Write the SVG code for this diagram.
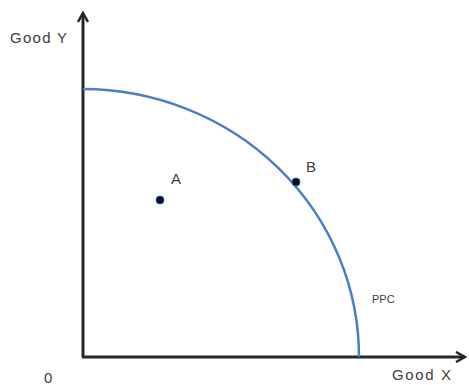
<svg xmlns="http://www.w3.org/2000/svg" width="470" height="385" viewBox="0 0 470 385">
<defs>
<style>
.axis{stroke:#262626;stroke-width:3;fill:none}
.lbl{font-family:"Liberation Sans",Arial,sans-serif;fill:#404040}
.pt{fill:#0d0d1a;stroke:#2e5a9c;stroke-width:1}
</style>
<marker id="ah" viewBox="0 0 12 12" refX="10" refY="6" markerWidth="12" markerHeight="12" markerUnits="userSpaceOnUse" orient="auto">
<path d="M1,1 L10,6 L1,11" fill="none" stroke="#262626" stroke-width="2.5"/>
</marker>
</defs>
<rect width="470" height="385" fill="#ffffff"/>
<g id="connectors">
<path id="y-axis" class="axis" d="M83,357 L83,13" marker-end="url(#ah)"/>
<path id="x-axis" class="axis" d="M82,357 L465,357" marker-end="url(#ah)"/>
<path id="ppc-curve" d="M83,89 A277,268 0 0 1 359,357" fill="none" stroke="#4a7fc8" stroke-width="2.5"/>
</g>
<g id="point-A"><circle class="pt" cx="160" cy="200" r="4"/><text class="lbl" x="171" y="184" font-size="15">A</text></g>
<g id="point-B"><circle class="pt" cx="296" cy="182" r="4"/><text class="lbl" x="306" y="172" font-size="15">B</text></g>
<g id="label-goody"><text class="lbl" x="10" y="43" font-size="15" textLength="57">Good Y</text></g>
<g id="label-goodx"><text class="lbl" x="392" y="380" font-size="15" textLength="59">Good X</text></g>
<g id="label-ppc"><text class="lbl" x="372" y="303" font-size="11">PPC</text></g>
<g id="label-origin"><text class="lbl" x="44" y="383" font-size="15">0</text></g>
</svg>
